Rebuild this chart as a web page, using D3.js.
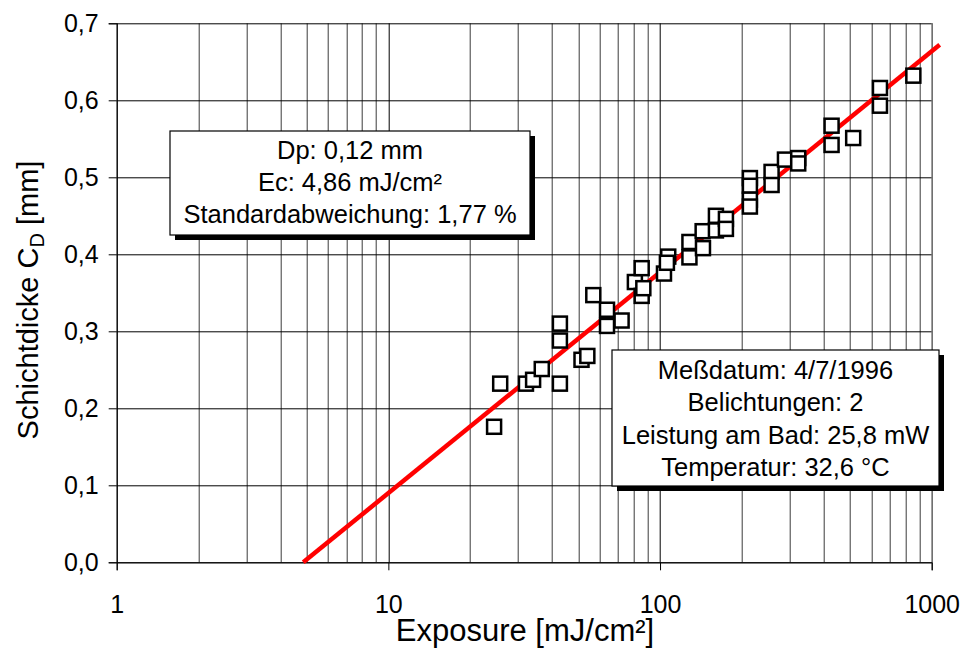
<!DOCTYPE html>
<html>
<head>
<meta charset="utf-8">
<script src="https://cdn.jsdelivr.net/npm/d3@7"></script>
<style>
  body { margin: 0; background: #fff; }
  svg { display: block; font-family: "Liberation Sans", Arial, sans-serif; }
</style>
</head>
<body>
<svg id="chart" width="964" height="649"></svg>
<script>
// measured points: exposure [mJ/cm²], layer thickness [mm]
const exposure = [24.5, 25.8, 32.1, 34.1, 36.7, 42.8, 42.8, 42.8, 51.4, 54.0,
  56.8, 63.8, 63.8, 72.2, 80.8, 85.6, 85.6, 86.8, 103.4, 107.2,
  106, 128.3, 128.3, 143.9, 143.5, 160.6, 160.6, 174.8, 174.8, 214.2,
  214.2, 214.2, 214.2, 257.4, 257.4, 288.3, 322.6, 322.6, 428, 428,
  514, 645, 645, 856];
const thickness = [0.176, 0.232, 0.232, 0.237, 0.251, 0.310, 0.288, 0.232, 0.263, 0.268,
  0.347, 0.328, 0.307, 0.314, 0.364, 0.382, 0.346, 0.356, 0.375, 0.397,
  0.389, 0.416, 0.396, 0.408, 0.430, 0.450, 0.431, 0.446, 0.433, 0.499,
  0.489, 0.471, 0.462, 0.507, 0.490, 0.523, 0.525, 0.518, 0.567, 0.542,
  0.551, 0.616, 0.593, 0.632];

// fit line endpoints
const fitX = [4.86, 1070];
const fitY = [0, 0.672];

const xTicks = [1, 10, 100, 1000];
const yTicks = [0, 0.1, 0.2, 0.3, 0.4, 0.5, 0.6, 0.7];

const box1Lines = ["Dp: 0,12 mm", "Ec: 4,86 mJ/cm²", "Standardabweichung: 1,77 %"];
const box2Lines = ["Meßdatum: 4/7/1996", "Belichtungen: 2", "Leistung am Bad: 25,8 mW", "Temperatur: 32,6 °C"];

const margin = {left: 116.7, top: 23.3, right: 964 - 931.7, bottom: 649 - 562.3};
const svg = d3.select("#chart");
const width = 964 - margin.left - margin.right;
const height = 649 - margin.top - margin.bottom;

const x = d3.scaleLog().domain([1, 1000]).range([0, width]);
const y = d3.scaleLinear().domain([0, 0.7]).range([height, 0]);

const g = svg.append("g").attr("transform", `translate(${margin.left},${margin.top})`);

// vertical grid (minor + major)
let minor = [];
for (let d = 1; d < 1000; d *= 10)
  for (let k = 2; k <= 9; k++) minor.push(d * k);
g.selectAll(".vminor").data(minor).enter().append("line")
  .attr("x1", d => Math.round(x(d)) + 0.5).attr("x2", d => Math.round(x(d)) + 0.5)
  .attr("y1", 0).attr("y2", height)
  .attr("stroke", "#3a3a3a").attr("stroke-width", 1);
g.selectAll(".vmajor").data(xTicks).enter().append("line")
  .attr("x1", d => Math.round(x(d)) + 0.5).attr("x2", d => Math.round(x(d)) + 0.5)
  .attr("y1", 0).attr("y2", height)
  .attr("stroke", "#000").attr("stroke-width", 1);

// horizontal grid
g.selectAll(".hgrid").data(yTicks).enter().append("line")
  .attr("x1", 0).attr("x2", width)
  .attr("y1", d => Math.round(y(d)) + 0.5).attr("y2", d => Math.round(y(d)) + 0.5)
  .attr("stroke", "#000").attr("stroke-width", 1);

// right border
g.append("line").attr("x1", width + 0.5).attr("x2", width + 0.5).attr("y1", 0).attr("y2", height)
  .attr("stroke", "#808080");

// axes
const fmt = d3.format(".1f");
const yAxis = g.append("g")
  .call(d3.axisLeft(y).tickValues(yTicks).tickSize(8).tickPadding(10)
    .tickFormat(d => fmt(d).replace(".", ",")));
const xAxis = g.append("g").attr("transform", `translate(0,${height})`)
  .call(d3.axisBottom(x).tickValues(xTicks).tickSize(8).tickPadding(25)
    .tickFormat(d3.format("d")));
[yAxis, xAxis].forEach(a => {
  a.select(".domain").attr("stroke", "#000");
  a.selectAll(".tick line").attr("stroke", "#000");
  a.selectAll("text").attr("font-size", 25).attr("fill", "#000")
    .attr("font-family", "'Liberation Sans', Arial, sans-serif");
});

// fit line
g.append("line")
  .attr("x1", x(fitX[0])).attr("y1", y(fitY[0]))
  .attr("x2", x(fitX[1])).attr("y2", y(fitY[1]))
  .attr("stroke", "#ff0000").attr("stroke-width", 4.5);

// data squares
const pts = exposure.map((e, i) => ({e, t: thickness[i]}));
const s = 14;
g.selectAll(".pt").data(pts).enter().append("rect")
  .attr("x", d => x(d.e) - s / 2).attr("y", d => y(d.t) - s / 2)
  .attr("width", s).attr("height", s)
  .attr("fill", "#fff").attr("stroke", "#000").attr("stroke-width", 2.5);

// text boxes with drop shadow
function textBox(x0, y0, w, h, lines, firstBase, step) {
  svg.append("rect").attr("x", x0 + 5).attr("y", y0 + 5).attr("width", w).attr("height", h).attr("fill", "#000");
  svg.append("rect").attr("x", x0).attr("y", y0).attr("width", w).attr("height", h)
    .attr("fill", "#fff").attr("stroke", "#000").attr("stroke-width", 1.2);
  svg.selectAll(null).data(lines).enter().append("text")
    .attr("x", x0 + w / 2).attr("y", (d, i) => firstBase + i * step)
    .attr("text-anchor", "middle").attr("font-size", 25.5).text(d => d);
}
textBox(170, 131, 360, 104, box1Lines, 159, 32);
textBox(612, 350, 327, 136, box2Lines, 379, 32.3);

// axis titles
svg.append("text").attr("x", 525).attr("y", 641).attr("text-anchor", "middle")
  .attr("font-size", 31).text("Exposure [mJ/cm²]");
const yl = svg.append("text").attr("transform", "translate(38,300) rotate(-90)")
  .attr("text-anchor", "middle").attr("font-size", 29);
yl.append("tspan").text("Schichtdicke C");
yl.append("tspan").attr("font-size", 20).attr("dy", 6).text("D");
yl.append("tspan").attr("dy", -6).text(" [mm]");
</script>
</body>
</html>
